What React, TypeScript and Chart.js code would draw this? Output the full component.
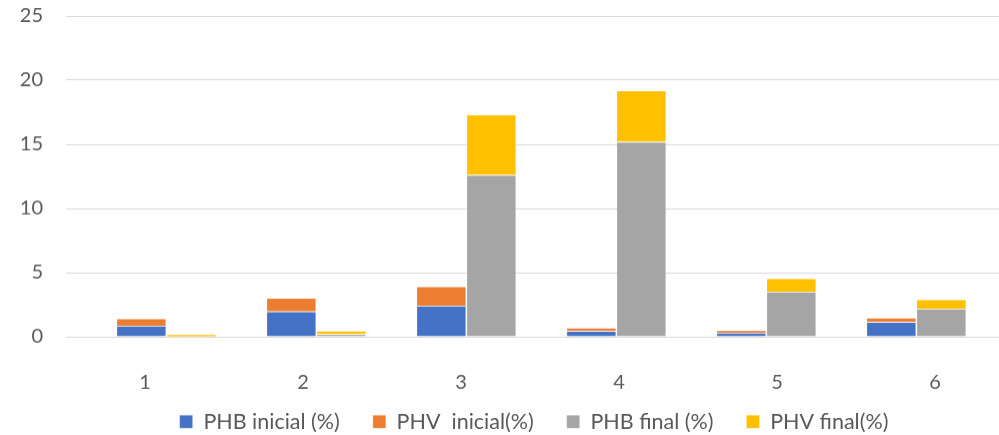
import React, { useEffect, useRef } from "react";
import { Chart, registerables } from "chart.js";

Chart.register(...registerables);

const CATEGORIES = ["1", "2", "3", "4", "5", "6"];
const CATEGORY_POS = [1, 2, 3, 4, 5, 6];
const PHB_INICIAL = [0.86, 1.98, 2.42, 0.45, 0.31, 1.15];
const PHV_INICIAL = [0.57, 1.04, 1.5, 0.25, 0.19, 0.33];
const PHB_FINAL = [0.02, 0.22, 12.62, 15.2, 3.52, 2.19];
const PHV_FINAL = [0.18, 0.25, 4.71, 4.0, 1.04, 0.72];
const SERIES_NAMES = ["PHB inicial (%)", "PHV  inicial(%)", "PHB final (%)", "PHV final(%)"];
const Y_MIN = 0;
const Y_MAX = 25;
const Y_STEP = 5;

const FONT = "Lato";
const TEXT = "#595959";

const toXY = (arr: number[]) => arr.map((v, i) => ({ x: CATEGORY_POS[i], y: v }));

const legendShift = {
  id: "legendShift",
  afterLayout(chart: any) {
    const l = chart.legend;
    if (l) {
      l.top -= 11;
      l.bottom -= 11;
    }
  },
};

export default function App() {
  const ref = useRef<HTMLCanvasElement | null>(null);
  useEffect(() => {
    if (!ref.current) return;
    const border = "rgba(255,255,255,0.4)";
    const chart = new Chart(ref.current, {
      type: "bar",
      data: {
        labels: CATEGORIES,
        datasets: [
          { label: SERIES_NAMES[0], data: toXY(PHB_INICIAL) as any, backgroundColor: "#4472C4", borderColor: border, borderWidth: 0.75, stack: "inicial", xAxisID: "x2", yAxisID: "y" },
          { label: SERIES_NAMES[1], data: toXY(PHV_INICIAL) as any, backgroundColor: "#ED7D31", borderColor: border, borderWidth: 0.75, stack: "inicial", xAxisID: "x2", yAxisID: "y" },
          { label: SERIES_NAMES[2], data: toXY(PHB_FINAL) as any, backgroundColor: "#A5A5A5", borderColor: border, borderWidth: 0.75, stack: "final", xAxisID: "x2", yAxisID: "y" },
          { label: SERIES_NAMES[3], data: toXY(PHV_FINAL) as any, backgroundColor: "#FFC000", borderColor: border, borderWidth: 0.75, stack: "final", xAxisID: "x2", yAxisID: "y" },
        ],
      },
      options: {
        responsive: true,
        maintainAspectRatio: false,
        animation: false,
        categoryPercentage: 100 / 150,
        barPercentage: 1,
        layout: { padding: { top: 16, left: 0, right: 0, bottom: 0 } },
        plugins: {
          legend: {
            position: "bottom",
            labels: { boxWidth: 13, boxHeight: 13, padding: 33, color: TEXT, font: { family: FONT, size: 21.5 } },
          },
          tooltip: { enabled: false },
        },
        scales: {
          x: {
            type: "category",
            offset: true,
            grid: { display: false },
            border: { display: false },
            ticks: { color: TEXT, font: { family: FONT, size: 20 }, padding: 26 },
            afterFit: (s: any) => { s.height = 52; },
          },
          x2: {
            type: "linear",
            display: false,
            offset: false,
            min: 0.331,
            max: 6.651,
            afterBuildTicks: (s: any) => { s.ticks = CATEGORY_POS.map((v) => ({ value: v })); },
          },
          y: {
            stacked: true,
            min: Y_MIN,
            max: Y_MAX,
            ticks: { stepSize: Y_STEP, color: TEXT, font: { family: FONT, size: 20 }, padding: 23 },
            grid: { color: "#d9d9d9", lineWidth: 1, drawTicks: false },
            border: { display: false },
            afterFit: (s: any) => { s.width = 66; s.paddingTop = 0; s.paddingBottom = 0; },
          },
          yR: {
            position: "right",
            display: true,
            grid: { display: false },
            ticks: { display: false },
            border: { display: false },
            afterFit: (s: any) => { s.width = 54; },
          },
        },
      } as any,
      plugins: [legendShift],
    });
    return () => chart.destroy();
  }, []);
  return (
    <div style={{ position: "fixed", left: 0, top: 0, width: 999, height: 435, overflow: "hidden", background: "#fff" }}>
      <div style={{ position: "relative", width: 1068, height: 452.5 }}>
        <canvas ref={ref} />
      </div>
    </div>
  );
}
